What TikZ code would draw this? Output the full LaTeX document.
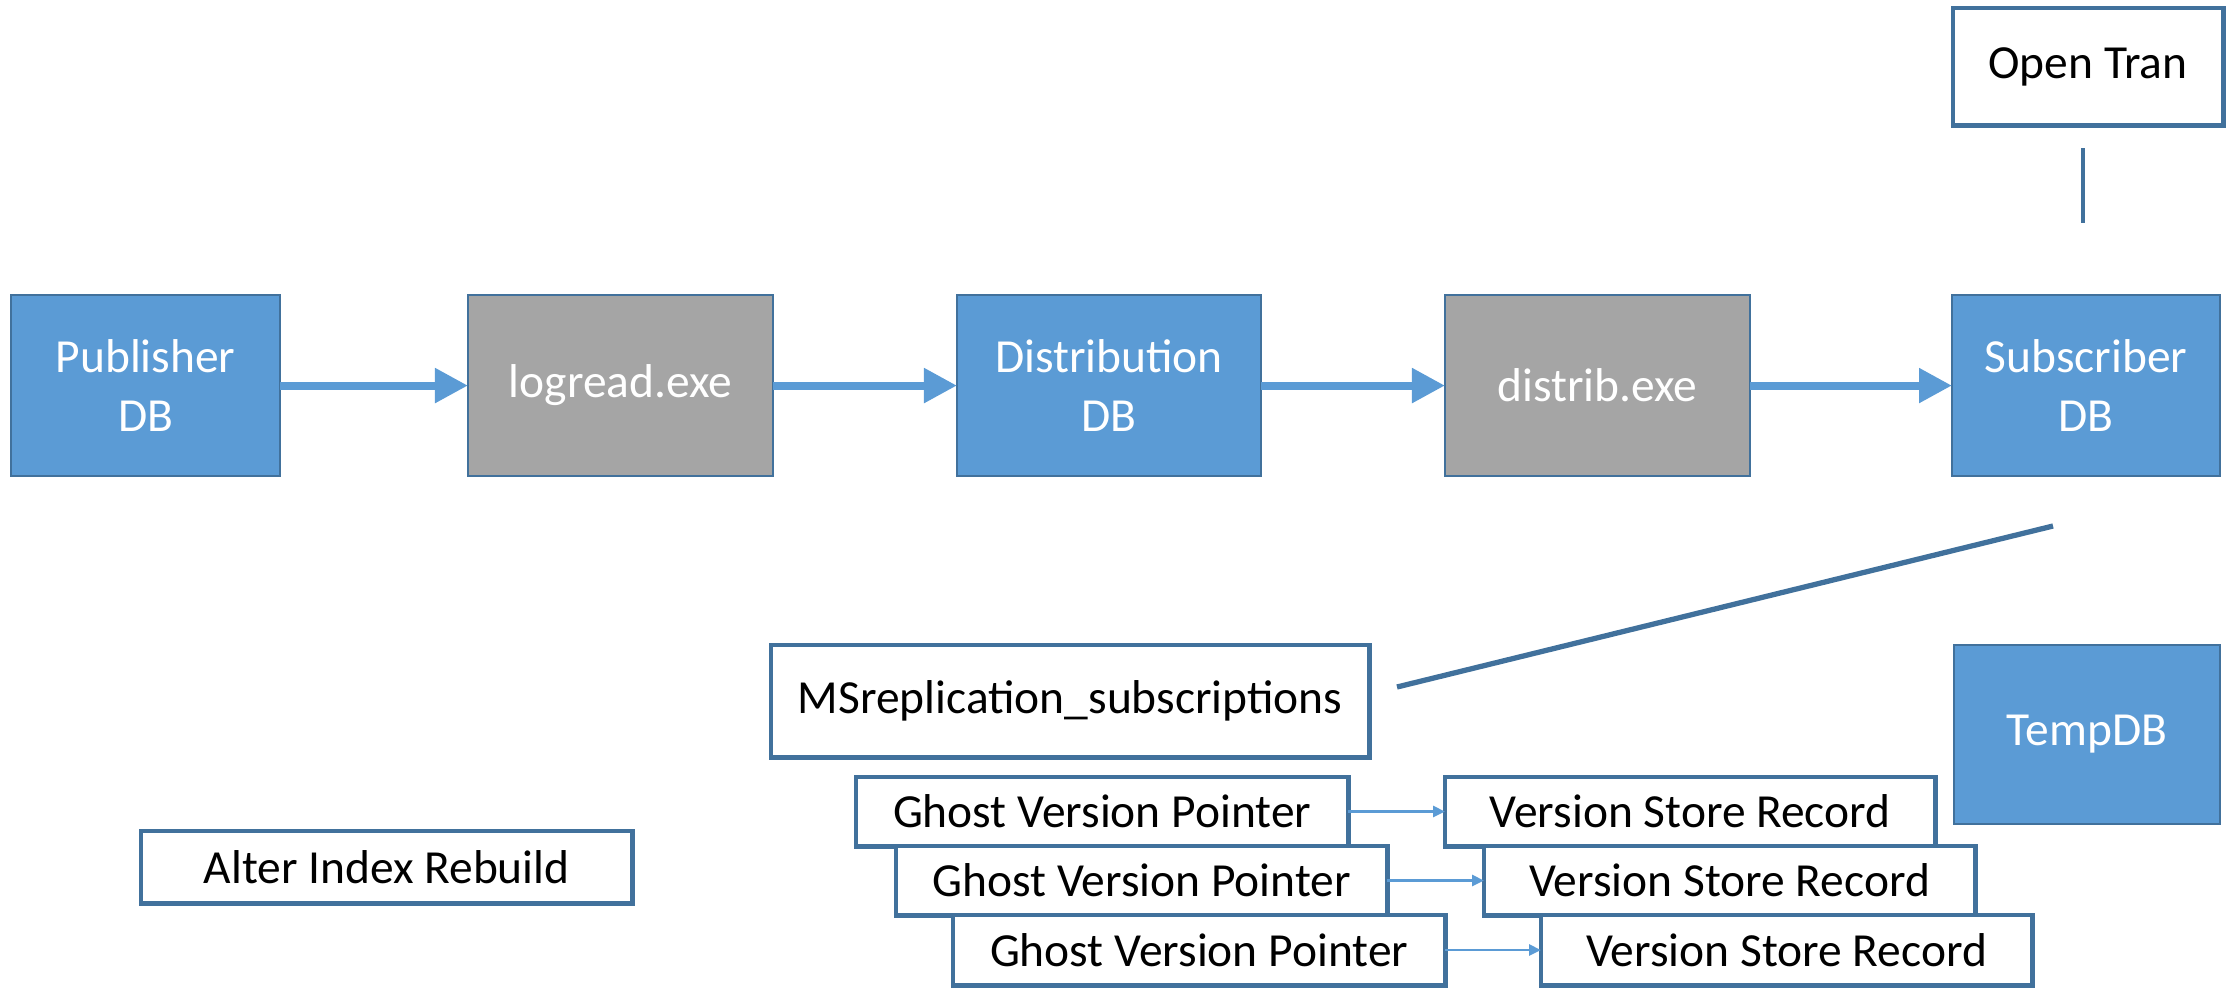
\documentclass[tikz,border=0pt]{standalone}
\usepackage{fontspec}
\setmainfont{Carlito}
\usetikzlibrary{arrows.meta}
\definecolor{fillblue}{HTML}{5B9BD5}
\definecolor{edgeblue}{HTML}{41719C}
\definecolor{boxgrey}{HTML}{A5A5A5}
\begin{document}
\begin{tikzpicture}[x=0.01cm,y=-0.01cm,
 base/.style={anchor=north west, outer sep=0pt, inner sep=0pt, align=center, font=\fontsize{13.5}{17}\selectfont},
 dbbox/.style={base, fill=fillblue, draw=edgeblue, line width=0.7pt, text=white},
 exebox/.style={base, fill=boxgrey, draw=edgeblue, line width=0.7pt, text=white},
 wbox/.style={base, fill=white, draw=edgeblue, line width=1.4pt, text=black},
 flow/.style={draw=fillblue, line width=2.3pt, -{Triangle[length=0.33cm,width=0.33cm]}},
 thinarrow/.style={draw=fillblue, line width=0.8pt, -{Triangle[length=0.12cm,width=0.11cm]}},
 link/.style={draw=edgeblue, line width=1.3pt}
]
\useasboundingbox (0,0) rectangle (2236,987);

\node[dbbox, minimum width=2.69cm, minimum height=1.81cm] (pub) at (11,295) {Publisher\\DB};
\node[exebox, minimum width=3.05cm, minimum height=1.81cm] (logr) at (468,295) {logread.exe};
\node[dbbox, minimum width=3.04cm, minimum height=1.81cm] (dist) at (957,295) {Distribution\\DB};
\node[exebox, minimum width=3.05cm, minimum height=1.81cm] (distexe) at (1445,295) {distrib.exe};
\node[dbbox, minimum width=2.68cm, minimum height=1.81cm] (sub) at (1952,295) {Subscriber\\DB};

\draw[flow] (pub) -- (logr);
\draw[flow] (logr) -- (dist);
\draw[flow] (dist) -- (distexe);
\draw[flow] (distexe) -- (sub);

\node[wbox, minimum width=2.70cm, minimum height=1.17cm] (open) at (1953,8) {Open Tran};
\coordinate (v1) at (2083,148);
\coordinate (v2) at (2083,223);
\draw[link] (v1) -- (v2);

\node[dbbox, minimum width=2.66cm, minimum height=1.79cm] (temp) at (1954,645) {TempDB};

\node[wbox, minimum width=5.98cm, minimum height=1.12cm] (msrep) at (771,645) {MSreplication\_subscriptions};
\coordinate (d1) at (2053,526);
\coordinate (d2) at (1397,687);
\draw[link, line width=1.5pt] (d1) -- (d2);

\node[wbox, minimum width=4.91cm, minimum height=0.72cm] (alter) at (141,831) {Alter Index Rebuild};

\node[wbox, minimum width=4.92cm, minimum height=0.69cm] (g1) at (856,777) {Ghost Version Pointer};
\node[wbox, minimum width=4.90cm, minimum height=0.69cm] (r1) at (1445,777) {Version Store Record};
\node[wbox, minimum width=4.91cm, minimum height=0.69cm] (g2) at (896,846) {Ghost Version Pointer};
\node[wbox, minimum width=4.91cm, minimum height=0.69cm] (r2) at (1484,846) {Version Store Record};
\node[wbox, minimum width=4.92cm, minimum height=0.70cm] (g3) at (953,915) {Ghost Version Pointer};
\node[wbox, minimum width=4.91cm, minimum height=0.70cm] (r3) at (1541,915) {Version Store Record};

\draw[thinarrow] (g1) -- (r1);
\draw[thinarrow] (g2) -- (r2);
\draw[thinarrow] (g3) -- (r3);
\end{tikzpicture}
\end{document}
